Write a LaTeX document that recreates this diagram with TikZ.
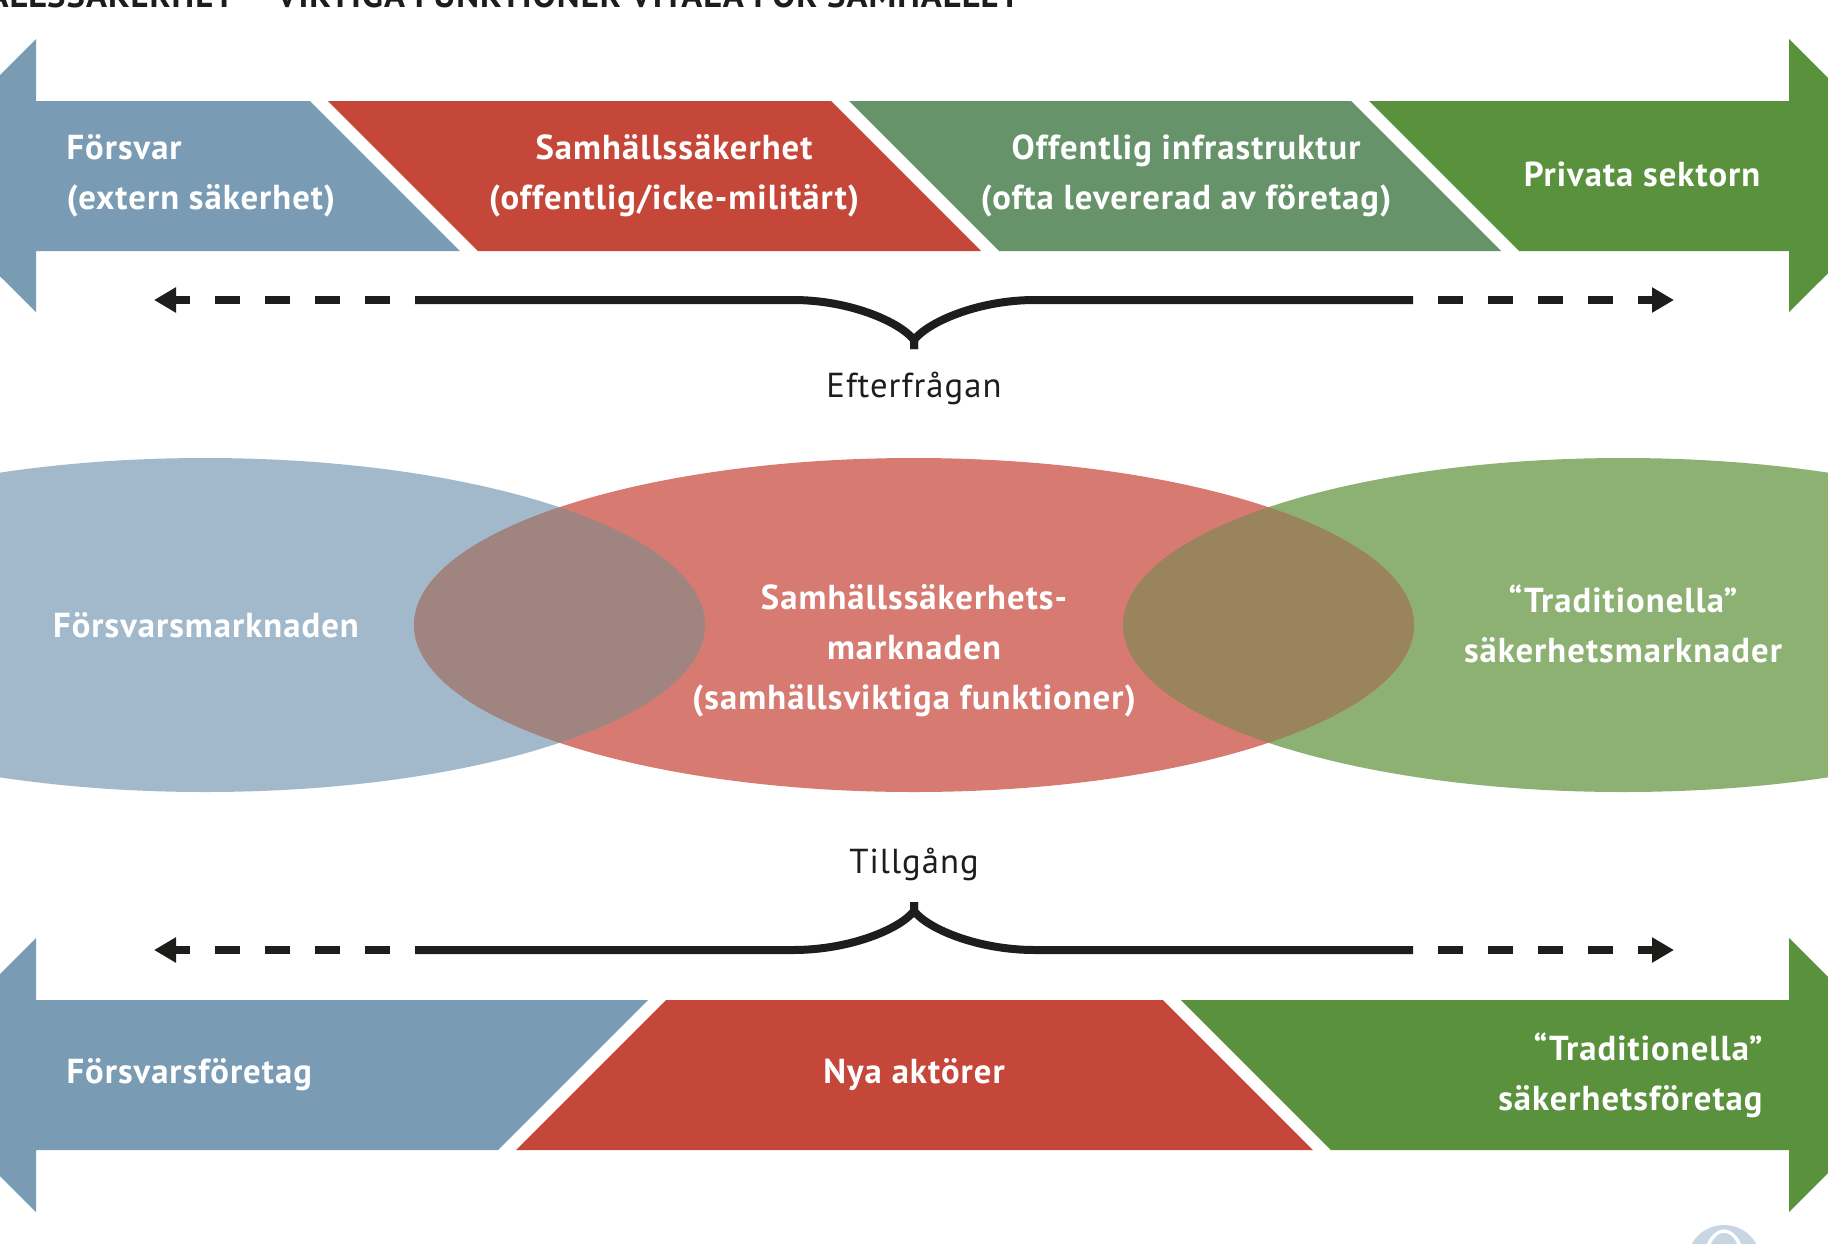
\documentclass[tikz,border=0pt]{standalone}
\usepackage{fontspec}
\setmainfont{PT Sans}[LetterSpace=3]
\usetikzlibrary{arrows.meta}

\definecolor{bandblue}{RGB}{122,155,180}
\definecolor{bandred}{RGB}{197,71,58}
\definecolor{bandgreenA}{RGB}{102,147,106}
\definecolor{bandgreenB}{RGB}{90,145,61}
\definecolor{ellblue}{RGB}{162,185,204}
\definecolor{ellred}{RGB}{214,122,114}
\definecolor{ellgreen}{RGB}{140,177,114}
\definecolor{mixBR}{RGB}{160,132,128}
\definecolor{mixRG}{RGB}{154,132,94}
\definecolor{ink}{RGB}{29,29,27}
\definecolor{logoblue}{RGB}{200,213,226}

\tikzset{every picture/.style={line width=0.75pt}}
\tikzset{
  bandtxt/.style={text=white, inner sep=0pt, font=\bfseries\fontsize{26}{37.5}\selectfont},
  axislbl/.style={text=ink, inner sep=0pt, font=\fontsize{26}{30}\selectfont},
  titletxt/.style={text=ink, inner sep=0pt, font=\bfseries\fontsize{26}{30}\selectfont},
  dashline/.style={draw=ink, line width=6pt, dash pattern=on 18.75pt off 18.75pt,
    -{Triangle[length=16.5pt,width=18pt]}},
  braceline/.style={draw=ink, line width=6pt},
}

\begin{document}
\begin{tikzpicture}[x=0.75pt,y=0.75pt,yscale=-1,xscale=1]
\useasboundingbox (0,0) rectangle (1828,1243);

\node [titletxt, anchor=base east] (title) at (1020,7) {SAMHÄLLSSÄKERHET – VIKTIGA FUNKTIONER VITALA FÖR SAMHÄLLET};

% efterfrågan
\fill [bandblue] (-101,176) -- (36,39) -- (36,101) -- (310,101) -- (460,251) -- (36,251) -- (36,312) -- cycle ;
\fill [bandred] (328,101) -- (831,101) -- (981,251) -- (478,251) -- cycle ;
\fill [bandgreenA] (849,101) -- (1351,101) -- (1501,251) -- (999,251) -- cycle ;
\fill [bandgreenB] (1369,101) -- (1789,101) -- (1789,39) -- (1926,176) -- (1789,312) -- (1789,251) -- (1519,251) -- cycle ;

\node [bandtxt, anchor=west, align=left] (forsvar) at (66,176) {Försvar\\(extern säkerhet)};
\node [bandtxt, align=center] (samh) at (674,176) {Samhällssäkerhet\\(offentlig/icke-militärt)};
\node [bandtxt, align=center] (offentlig) at (1186,176) {Offentlig infrastruktur\\(ofta levererad av företag)};
\node [bandtxt] (privata) at (1642,174) {Privata sektorn};

\coordinate (ltipA) at (154,300);
\coordinate (ldashA) at (390,300);
\coordinate (lsolA) at (415,300);
\coordinate (lbendA) at (793,300);
\coordinate (rbendA) at (1035,300);
\coordinate (rsolA) at (1413,300);
\coordinate (rdashA) at (1438,300);
\coordinate (rtipA) at (1674,300);
\coordinate (tipA) at (914,340);
\coordinate (stubA) at (914,349);

\draw [dashline] (ldashA) -- (ltipA) ;
\draw [dashline] (rdashA) -- (rtipA) ;
\draw [braceline] (lsolA) -- (lbendA) .. controls +(57,0) and +(-14,-18) .. (tipA) -- (stubA) ;
\draw [braceline] (rsolA) -- (rbendA) .. controls +(-57,0) and +(14,-18) .. (tipA) -- (stubA) ;

\node [axislbl, anchor=base] (efterfragan) at (914,397) {Efterfrågan};

% marknader
\fill [ellblue] (205,625) ellipse (500 and 167) ;
\fill [ellgreen] (1623,625) ellipse (500 and 167) ;
\fill [ellred] (914,625) ellipse (500 and 167) ;
\begin{scope}
\clip (205,625) ellipse (500 and 167) ;
\fill [mixBR] (914,625) ellipse (500 and 167) ;
\end{scope}
\begin{scope}
\clip (1623,625) ellipse (500 and 167) ;
\fill [mixRG] (914,625) ellipse (500 and 167) ;
\end{scope}

\node [bandtxt] (fmarknad) at (206,625) {Försvarsmarknaden};
\node [bandtxt, align=center] (smarknad) at (914,651) {Samhällssäkerhets-\\marknaden\\(samhällsviktiga funktioner)};
\node [bandtxt, align=center] (tmarknad) at (1623,624) {“Traditionella”\\säkerhetsmarknader};

% tillgång
\node [axislbl, anchor=base] (tillgang) at (914,873) {Tillgång};

\coordinate (ltipB) at (154,950);
\coordinate (ldashB) at (390,950);
\coordinate (lsolB) at (415,950);
\coordinate (lbendB) at (793,950);
\coordinate (rbendB) at (1035,950);
\coordinate (rsolB) at (1413,950);
\coordinate (rdashB) at (1438,950);
\coordinate (rtipB) at (1674,950);
\coordinate (tipB) at (914,911);
\coordinate (stubB) at (914,902);

\draw [dashline] (ldashB) -- (ltipB) ;
\draw [dashline] (rdashB) -- (rtipB) ;
\draw [braceline] (lsolB) -- (lbendB) .. controls +(57,0) and +(-14,18) .. (tipB) -- (stubB) ;
\draw [braceline] (rsolB) -- (rbendB) .. controls +(-57,0) and +(14,18) .. (tipB) -- (stubB) ;

\fill [bandblue] (-101,1075) -- (36,938) -- (36,1000) -- (648,1000) -- (498,1150) -- (36,1150) -- (36,1212) -- cycle ;
\fill [bandred] (666,1000) -- (1163,1000) -- (1313,1150) -- (516,1150) -- cycle ;
\fill [bandgreenB] (1181,1000) -- (1789,1000) -- (1789,938) -- (1926,1075) -- (1789,1212) -- (1789,1150) -- (1331,1150) -- cycle ;

\node [bandtxt, anchor=west] (forsvf) at (66,1075) {Försvarsföretag};
\node [bandtxt] (nya) at (914,1075) {Nya aktörer};
\node [bandtxt, anchor=east, align=right] (tradf) at (1763,1075) {“Traditionella”\\säkerhetsföretag};

\fill [logoblue] (1724,1262) circle (37) ;
\draw [white, line width=2.5pt] (1724,1268) ellipse (20 and 37) ;

\end{tikzpicture}
\end{document}
